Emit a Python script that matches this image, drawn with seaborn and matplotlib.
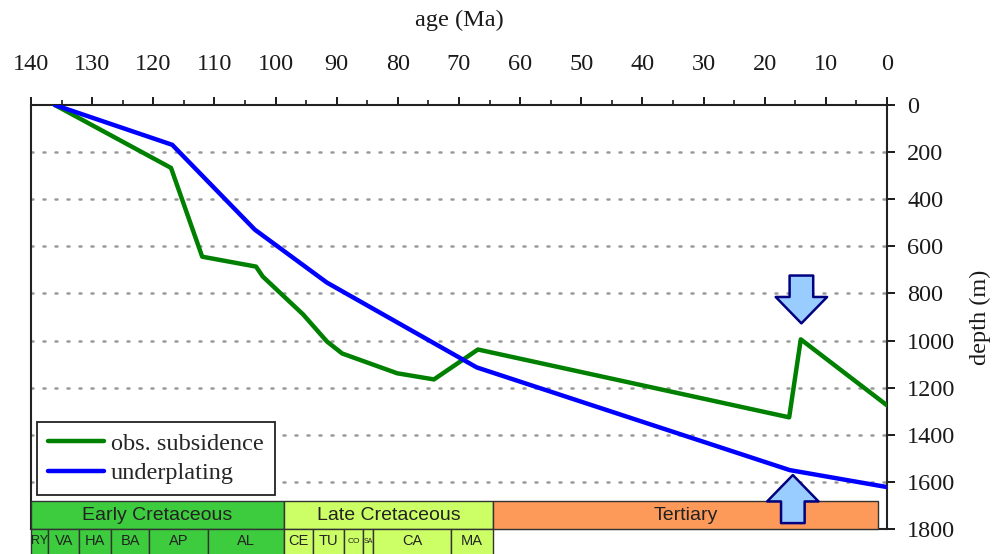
import pandas as pd
import seaborn as sns
import matplotlib.pyplot as plt
from matplotlib.patches import Rectangle
from matplotlib.ticker import MultipleLocator

# subsidence curves (age in Ma, depth in m)
obs_age = [136.1, 117.1, 112.0, 103.2, 102.1, 95.5, 91.6, 89.1, 80.1, 74.1, 66.9, 16.0, 14.1, 0.0]
obs_depth = [0, 267, 644, 686, 728, 889, 1004, 1055, 1139, 1165, 1038, 1326, 995, 1275]
und_age = [136.1, 116.9, 103.4, 91.6, 67.1, 15.9, 0.0]
und_depth = [0, 169, 529, 754, 1114, 1550, 1622]

# stratigraphic chart
epoch_names = ['Early Cretaceous', 'Late Cretaceous', 'Tertiary']
epoch_bounds = [140, 98.6, 64.4, 1.5]
epoch_colors = ['#3dcc3d', '#ccff66', '#fd9a5a']
stage_names = ['RY', 'VA', 'HA', 'BA', 'AP', 'AL', 'CE', 'TU', 'CO', 'SA', 'CA', 'MA']
stage_bounds = [140, 137.2, 132.1, 126.9, 120.7, 111.1, 98.6, 93.9, 88.8, 85.7, 84.1, 71.3, 64.4]
stage_colors = ['#3dcc3d'] * 6 + ['#ccff66'] * 6
stage_fontsize = [9, 10.5, 10.5, 10.5, 10.5, 10.5, 10.5, 10.5, 6, 5, 10.5, 10.5]

# arrows: (age, tail depth, tip depth)
arrow_age = [14.0, 15.4]
arrow_tail = [724, 1775]
arrow_tip = [927, 1571]

df = pd.concat([
    pd.DataFrame({'age': obs_age, 'depth': obs_depth, 'series': 'obs. subsidence'}),
    pd.DataFrame({'age': und_age, 'depth': und_depth, 'series': 'underplating'}),
])

sns.set_style('white')
plt.rcParams['font.family'] = ['Liberation Serif', 'DejaVu Serif']

fig = plt.figure(figsize=(9.95, 5.54), dpi=100)
ax = fig.add_axes([31 / 995, 1 - 529 / 554, 856 / 995, 424 / 554])

sns.lineplot(data=df, x='age', y='depth', hue='series', sort=False, estimator=None,
             palette={'obs. subsidence': '#008000', 'underplating': '#0000ff'},
             lw=3.2, ax=ax, zorder=3)

ax.set_xlim(140, 0)
ax.set_ylim(1800, 0)

# dotted depth gridlines
for d in range(200, 1800, 200):
    ax.axhline(d, color='#999999', ls=(0, (0.8, 4.0)), lw=1.8, dash_capstyle='round', zorder=1)

ax.xaxis.tick_top()
ax.xaxis.set_label_position('top')
ax.xaxis.set_major_locator(MultipleLocator(10))
ax.xaxis.set_minor_locator(MultipleLocator(5))
ax.yaxis.tick_right()
ax.yaxis.set_label_position('right')
ax.yaxis.set_major_locator(MultipleLocator(200))
ax.tick_params(axis='x', which='major', direction='out', length=5.5, width=1.4,
               labelsize=17.5, pad=16, colors='#1a1a1a', bottom=False, top=True)
ax.tick_params(axis='x', which='minor', direction='out', length=3.5, width=1.2,
               bottom=False, top=True, colors='#1a1a1a')
ax.tick_params(axis='y', direction='out', length=5.5, width=1.4, labelsize=17.5,
               pad=9, colors='#1a1a1a', left=False, right=True)
for s in ax.spines.values():
    s.set_linewidth(1.5)
    s.set_color('#222222')

ax.set_xlabel('age (Ma)', fontsize=17.5, labelpad=20, color='#1a1a1a')
ax.set_ylabel('depth (m)', fontsize=17.5, labelpad=10, rotation=90, color='#1a1a1a')

# stratigraphic bars
for i, name in enumerate(epoch_names):
    x0, x1 = epoch_bounds[i], epoch_bounds[i + 1]
    ax.add_patch(Rectangle((x1, 1683), x0 - x1, 117, fc=epoch_colors[i], ec='#333333',
                           lw=1, zorder=4, clip_on=False))
    ax.text((x0 + x1) / 2, 1741, name, ha='center', va='center', fontsize=14,
            family='Liberation Sans', color='#222222', zorder=5)
for i, name in enumerate(stage_names):
    x0, x1 = stage_bounds[i], stage_bounds[i + 1]
    ax.add_patch(Rectangle((x1, 1800), x0 - x1, 115, fc=stage_colors[i], ec='#333333',
                           lw=1, zorder=4, clip_on=False))
    ax.text((x0 + x1) / 2, 1853, name, ha='center', va='center', fontsize=stage_fontsize[i],
            family='Liberation Sans', color='#222222', zorder=5, clip_on=False)

# block arrows
for a, t0, t1 in zip(arrow_age, arrow_tail, arrow_tip):
    ax.annotate('', xy=(a, t1), xytext=(a, t0), annotation_clip=False, zorder=6,
                arrowprops=dict(arrowstyle='simple,head_length=0.95,head_width=1.85,tail_width=0.85',
                                mutation_scale=20, fc='#99ccff', ec='#000080', lw=1.8,
                                shrinkA=0, shrinkB=0))

leg = ax.legend(loc='lower left', bbox_to_anchor=(0.007, 0.08), borderaxespad=0,
                fontsize=17.5, frameon=True, fancybox=False, framealpha=1,
                handlelength=2.3, handletextpad=0.3, labelspacing=0.3, borderpad=0.45)
leg.get_frame().set_edgecolor('#222222')
leg.get_frame().set_linewidth(1.3)
leg.set_zorder(7)
for line in leg.get_lines():
    line.set_linewidth(3.2)

fig.savefig('out.png', dpi=100)
